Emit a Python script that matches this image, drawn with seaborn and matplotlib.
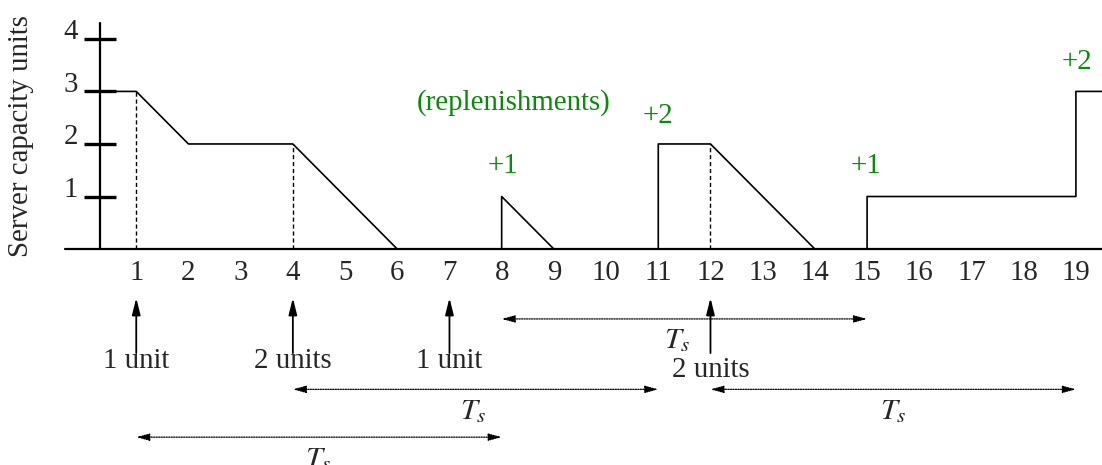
import matplotlib
matplotlib.use("Agg")
import matplotlib.pyplot as plt
import pandas as pd
import seaborn as sns

# capacity curve (time, units)
cap_t = [0.31, 1, 2, 4, 6, 8, 8, 9, 11, 11, 12, 14, 15, 15, 19, 19, 19.5]
cap_u = [3, 3, 2, 2, 0, 0, 1, 0, 0, 2, 2, 0, 0, 1, 1, 3, 3]

x_ticks = list(range(1, 20))
y_ticks = [1, 2, 3, 4]

# dashed guides at consumption starts
dash_t = [1, 4, 12]
dash_u = [3, 2, 2]

# requests (time, label, label height)
req_t = [1, 4, 7, 12]
req_lab = ["1 unit", "2 units", "1 unit", "2 units"]
req_y = [-2.13, -2.13, -2.13, -2.3]

# replenishment periods (start, end, level, label x)
per_start = [8, 4, 12, 1]
per_end = [15, 11, 19, 8]
per_y = [-1.33, -2.67, -2.67, -3.58]
per_lab_x = [11.36, 7.45, 15.5, 4.48]

# replenishment amounts
rep_t = [8.03, 11.0, 14.98, 19.02]
rep_u = [1.58, 2.53, 1.58, 3.56]
rep_lab = ["+1", "+2", "+1", "+2"]

sns.set_style("white")
plt.rcParams["font.family"] = ["Liberation Serif", "DejaVu Serif"]
plt.rcParams["mathtext.fontset"] = "stix"
fs = 20.8
green = "#0a8a0a"

fig = plt.figure(figsize=(11.02, 4.65), dpi=100)
ax = fig.add_axes([0, 0, 1, 1])

df = pd.DataFrame({"t": cap_t, "u": cap_u})
sns.lineplot(data=df, x="t", y="u", sort=False, estimator=None,
             color="black", lw=1.2, ax=ax)
ax.set_xlim(-1.61, 19.5)
ax.set_ylim(-4.11, 4.74)
ax.axis("off")

# axes
ax.plot([-0.36, 19.5], [0, 0], color="black", lw=1.6)
ax.plot([0.31, 0.31], [0, 4.3], color="black", lw=1.6)
for v in y_ticks:
    ax.plot([0.0, 0.62], [v, v], color="black", lw=2.4, solid_capstyle="butt")
    ax.text(-0.11, v + 0.13, str(v), ha="right", va="center", fontsize=fs)
for v in x_ticks:
    ax.text(v, -0.46, str(v), ha="center", va="center", fontsize=fs)
ax.text(-1.2, 2.15, "Server capacity units", rotation=90, ha="center",
        va="center", fontsize=fs)

for t, u in zip(dash_t, dash_u):
    ax.plot([t, t], [0, u], color="black", lw=1, ls=(0, (3, 2)))

for t, lab, ly in zip(req_t, req_lab, req_y):
    ax.annotate("", xy=(t, -0.93), xytext=(t, -1.98),
                arrowprops=dict(arrowstyle="-|>,head_length=1.0,head_width=0.25",
                                mutation_scale=10, color="black", lw=1.3,
                                shrinkA=0, shrinkB=0))
    ax.text(t, ly, lab, ha="center", va="center", fontsize=fs)

for a, b, y, lx in zip(per_start, per_end, per_y, per_lab_x):
    ax.annotate("", xy=(b, y), xytext=(a, y),
                arrowprops=dict(arrowstyle="<|-|>,head_length=0.8,head_width=0.22",
                                mutation_scale=10, color="black", lw=0.9,
                                ls=(0, (1, 1)), shrinkA=0, shrinkB=0))
    ax.text(lx, y - 0.42, r"$T_s$", ha="center", va="center", fontsize=fs + 1)

for t, u, lab in zip(rep_t, rep_u, rep_lab):
    ax.text(t, u, lab, ha="center", va="center", fontsize=fs, color=green)
ax.text(8.22, 2.78, "(replenishments)", ha="center", va="center",
        fontsize=fs, color=green)

fig.savefig("out.png", dpi=100)
